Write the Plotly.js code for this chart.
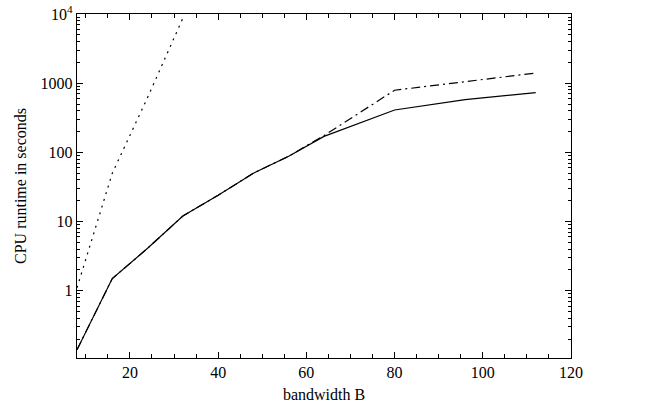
<!DOCTYPE html>
<html>
<head>
<meta charset="utf-8">
<script src="https://cdn.plot.ly/plotly-3.0.1.min.js"></script>
<style>html,body{margin:0;padding:0;background:#fff;}#chart{width:653px;height:411px;}</style>
</head>
<body>
<div id="chart"></div>
<script>
// Bandwidth values (x) and CPU runtimes (y, seconds)
var bandwidthSolid = [8, 16, 24, 32, 40, 48, 56, 64, 80, 96, 112];
var runtimeSolid   = [0.14, 1.5, 4.1, 12, 24, 50, 88, 170, 410, 580, 730];

var bandwidthDashDot = [8, 16, 24, 32, 40, 48, 56, 64, 80, 96, 112];
var runtimeDashDot   = [0.14, 1.5, 4.1, 12, 24, 50, 88, 175, 790, 1050, 1400];

var bandwidthDotted = [8, 16, 24, 32];
var runtimeDotted   = [1.1, 50, 620, 8700];

var yTickVals  = [1, 10, 100, 1000, 10000];
var yTickText  = ["1", "10", "100", "1000", "10<sup>4</sup>"];
var xTickVals  = [20, 40, 60, 80, 100, 120];
var xTickText  = ["20", "40", "60", "80", "100", "120"];

var lineStyle = {color: '#000', width: 1.2};

var traces = [
  {x: bandwidthSolid, y: runtimeSolid, mode: 'lines', line: Object.assign({}, lineStyle, {dash: 'solid'}), hoverinfo: 'skip'},
  {x: bandwidthDashDot, y: runtimeDashDot, mode: 'lines', line: Object.assign({}, lineStyle, {dash: '9px,4px,2px,4px'}), hoverinfo: 'skip'},
  {x: bandwidthDotted, y: runtimeDotted, mode: 'lines', line: Object.assign({}, lineStyle, {dash: '2px,5px'}), hoverinfo: 'skip'}
];

var serif = 'Liberation Serif, Times New Roman, serif';
var tickFont = {family: serif, size: 16, color: '#000'};
var titleFont = {family: serif, size: 16, color: '#000'};

var layout = {
  width: 653, height: 411,
  margin: {l: 77, r: 82, t: 14, b: 53},
  paper_bgcolor: '#fff', plot_bgcolor: '#fff',
  showlegend: false,
  font: tickFont,
  xaxis: {
    range: [8, 120],
    tickvals: xTickVals, ticktext: xTickText,
    ticks: 'inside', ticklen: 6, tickwidth: 1, tickcolor: '#000',
    minor: {dtick: 5, tick0: 0, ticks: 'inside', ticklen: 4, tickwidth: 1, tickcolor: '#000', showgrid: false},
    showline: true, linecolor: '#000', linewidth: 1.2, mirror: 'allticks',
    showgrid: false, zeroline: false,
    tickfont: tickFont,
    title: {text: 'bandwidth B', font: titleFont, standoff: 8}
  },
  yaxis: {
    type: 'log',
    range: [-0.973, 4],
    tickvals: yTickVals, ticktext: yTickText,
    ticks: 'inside', ticklen: 6, tickwidth: 1, tickcolor: '#000',
    minor: {dtick: 'D1', ticks: 'inside', ticklen: 3, tickwidth: 1, tickcolor: '#000', showgrid: false},
    showline: true, linecolor: '#000', linewidth: 1.2, mirror: 'allticks',
    showgrid: false, zeroline: false,
    tickfont: tickFont,
    title: {text: 'CPU runtime in seconds', font: titleFont, standoff: 10}
  }
};

Plotly.newPlot('chart', traces, layout, {staticPlot: true, displayModeBar: false});
</script>
</body>
</html>
